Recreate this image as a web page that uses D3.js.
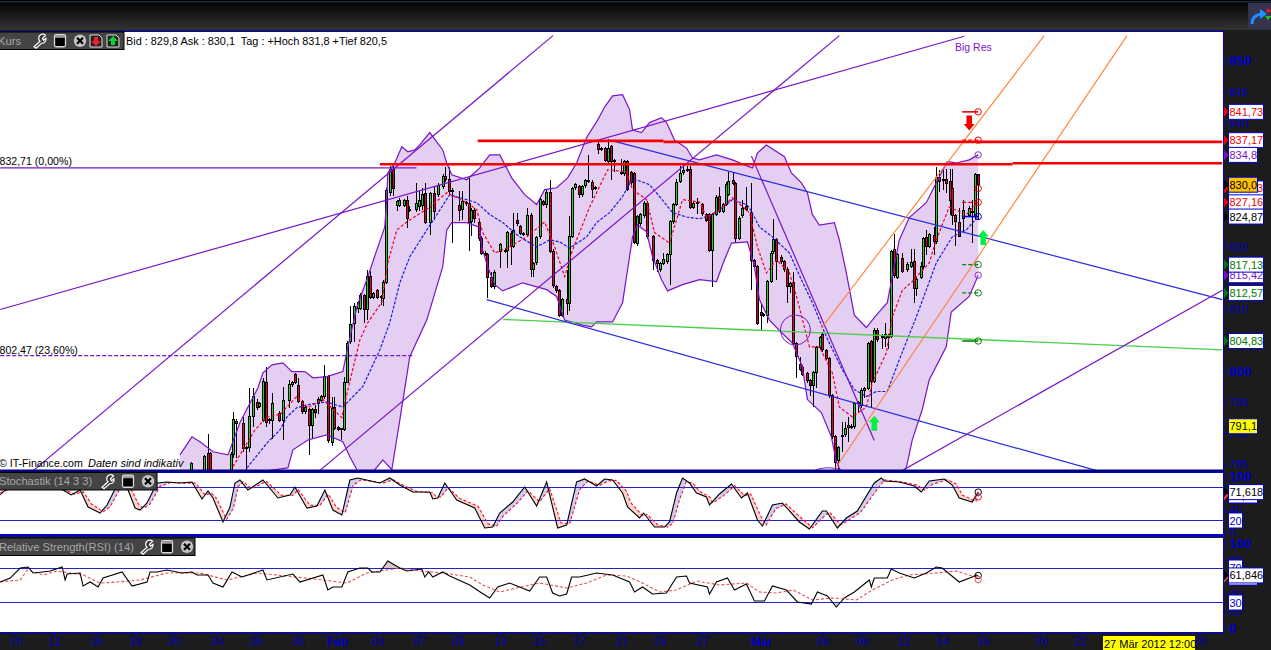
<!DOCTYPE html>
<html>
<head>
<meta charset="utf-8">
<style>
html, body { margin: 0; padding: 0; background: #1c1c1c; overflow: hidden; }
svg { display: block; font-family: "Liberation Sans", Arial, sans-serif; }
</style>
<script src="https://cdn.jsdelivr.net/npm/d3@7"></script>
</head>
<body>
<svg id="chart" width="1271" height="650"></svg>
<script>
// candles: [bar, open, high, low, close], one bar is four hours
var janCandles = [
    [.3,784,785.3,783,785.1],[4.2,784,786.5,783,786.3],[5.4,786.7,789.9,783,784],[6,786.7,787,783,784],
    [12.3,784,787,783,786.6],[12.9,786.6,793.4,786,792.2],[13.8,791.6,792.2,786,791.9],[15.9,791.6,792.6,787,787.5],
    [16.8,787.7,787.9,784,787.5],[17.7,787.7,797.2,787,792.6],[18.9,792.6,797.2,791,795.9],[20.1,795,795.5,793.8,794.2],
    [20.7,794.3,795,794,794.8],[21.9,792.1,798.8,791.8,798.3],[22.8,798.2,800.6,791,791.7],[23.7,792,792.5,791.5,792.2],
    [24.6,792.1,796.4,789.1,794.8],[26.7,793.2,793.6,791.8,792.1],[27.9,792.1,797.5,788.9,795.2],[29.7,795.2,798.5,794,797.9],
    [30.6,797.9,798.4,797.5,798.1],[31.5,799.5,799.7,797.9,798.1],[32.4,797.6,798.8,794.8,795.1],[33.6,795.1,795.3,793,793.4],
    [34.5,793.4,794.6,793,794.2],[35.7,793.8,794,786.5,791.3],[36.6,791.3,794,789.1,793.8],[37.5,793.8,794.5,792.5,793.3],
    [38.4,794.8,795.8,793,795.4],[39.3,795.3,796.2,795,795.9],[40.2,795.9,801,795.5,799.1],[41.4,799.1,799.4,788.4,788.8],
    [42.6,788.5,795.8,788,794],[43.2,794.2,795.8,790.5,790.8],[44.4,790.9,791.1,790.4,790.6],[45.3,790.6,790.9,788.9,790.7]
];
var febCandles = [
    [46.2,790.6,799.1,790.4,798.2],[47.1,798.2,804.8,798,804.5],[48,804.7,810.4,804.4,807.5],[49.2,807.7,811,804.7,810.4],
    [50.4,810.1,811.3,809.3,811],[51,810.1,812.6,809.9,812.2],[52.2,812.1,812.4,807.7,809.9],[53.1,809.9,816.2,808.2,815.2],
    [54,815.2,816.1,811.6,811.9],[54.9,811.9,812.8,811.6,812.5],[56.1,812.9,813.2,811.6,811.9],[57.3,812,812.2,810.6,811.9],
    [57.9,811.7,814.6,810.5,814.3],[58.8,814.3,829.5,814,829],[60,828.7,833,828.1,832.4],[60.9,832.4,833,828.1,829.4],
    [62.1,826.6,827.6,825.7,827.3],[62.7,826.7,827.9,826.4,827.4],[64.2,826.7,827.7,826.4,827.4],[65.1,827.4,828.1,823.1,824.5],
    [65.7,826,826.6,825.6,825.9],[67.8,826,830.2,825.6,827],[68.7,826.5,829,825.8,827.4],[69.6,826.6,829.4,826,828.5],
    [70.5,828.6,830.2,823.7,823.9],[72,823.9,828.9,821.9,828.6],[73.2,828.6,829.8,824.3,825.7],[74.4,828.5,830.3,828,829.8],
    [75.9,829.7,831.8,829.3,831.3],[76.5,831.3,832.9,830.5,830.8],[77.7,830.8,832.9,828.5,828.9],[78.6,829,829.4,820.6,828.9],
    [80.7,826.6,829,824.2,825.9],[81.6,826,829,824.3,827.3],[82.8,827.1,827.4,826.6,827],[83.7,827,831,819.4,823.9],
    [84.3,824.1,826.2,821.7,825.9],[85.2,825.9,826.2,823.8,824.6],[86.8,823.9,824.4,820.9,821.4],[87.4,821.4,821.7,818.7,819],
    [88.6,819,819.3,818.5,818.7],[89.2,818.7,819,811.7,815],[90.4,815,816,813.3,813.6],[91.3,813.6,816.2,813.2,815.8],
    [93.1,819.3,820.6,816.6,820.3],[94.6,819.4,819.7,819,819.3],[95.2,819.4,822.6,816.6,822.3],[96.4,822.2,822.5,817,820],
    [97,820,825.4,819.8,822.6],[98.2,824.2,825.4,823.3,823.8],[99.1,823.2,823.5,821.9,822.2],[100,822.2,822.4,821.8,822.1],
    [101.2,822,826.2,821.7,825.1],[102.4,825.1,825.4,815.2,816.4],[103,816.3,817.6,815.2,817.3],[103.9,817.4,821.8,817,821.5],
    [105.1,821.6,828,821.2,827.6],[106,827.3,827.6,826.5,826.8],[106.9,826.8,829.3,826.3,828.7],[108.1,828.7,830.8,819,819.3],
    [109,819.3,819.6,813.4,813.7],[109.9,813.6,813.9,812.6,812.9],[110.8,812.9,813.2,808.7,809],[111.7,809,811.8,808.7,811.5],
    [113.2,811.5,816.3,809,810.8],[113.8,810.9,825,809.6,821.7],[114.7,821.7,829.7,821.4,829.4],[115.6,829.5,830.3,829.2,830],
    [116.8,829.7,830,827.8,828.4],[117.7,828.4,830,828,829.7],[118.6,829.9,830.9,829.4,830.6],[119.5,830.7,834.8,830.2,830.6],
    [120.7,830.4,830.7,827.8,829.2],[121.6,829.5,829.8,829.1,829.4],[122.5,836.4,836.8,835,835.6],[123.4,835.8,836,835.4,835.7],
    [124.6,835.8,836.1,833.6,833.9],[125.5,833.8,837.4,833.5,835.8],[126.4,836.1,836.4,830.7,833.8],[127.3,833.9,834.1,832.1,833.8],
    [129.4,831.9,834.1,831.5,831.8],[130.3,831.8,834,831.4,833.8],[131.2,833.8,834,829,829.3],[132.4,831.9,832.2,830,830.3],
    [133.3,831.8,832.1,820.4,820.7],[134.2,820.6,825.2,820.2,824.9],[135.1,823.7,825.5,823.4,825.2],[136.3,825,827.4,824.7,827],
    [137.2,827,827.3,821.3,821.6],[139,821.6,821.9,816.3,817.8],[140.2,817.8,818.1,816,817.3],[141.1,816.3,817.6,815.9,817.3],
    [142,817.3,819,817,817.9],[143.2,817.6,819,817.3,818.7],[144.1,818.7,824.3,813.9,824],[145,824,827.1,823.7,826.8],
    [145.9,826.8,830.9,826.5,830.4],[147.1,830.5,833,830.2,831.8],[148,831.9,833.2,831.6,832.3],[149.2,832.5,833,832,832.4],
    [150.1,832.4,833,826.1,826.4],[151,826.4,827.3,826.1,827],[152.2,827.1,827.8,825.3,827],[153.7,826.8,827,825,825.3],
    [154.9,825.2,825.5,824,824.3],[155.8,825.2,825.5,819.1,819.4],[156.7,819.4,825.5,813.5,825.2],[157.9,825.2,828.3,825,828],
    [158.8,828.1,829.7,825.4,825.7],[160,825.7,827.1,825.4,826.8],[160.9,826.8,830.5,826.5,830.1],[161.5,828.4,832,828.1,830.5],
    [163,830.7,832.1,829.9,830.2],[163.6,830.2,830.5,820.6,821.4],[164.8,821.4,824.9,821.1,824.6],[165.7,825,827.6,824.7,826.2],
    [166.9,826.5,829.7,825.7,826],[168.6,825.5,830.2,813.1,817.8],[169.5,817.8,818.1,816.5,816.8]
];
var marCandles = [
    [170.4,816.8,817.1,807.4,807.7],[171.6,809.5,810.9,806.6,809],[172.2,809,809.4,808.7,809.1],[173.4,809,814.7,807.7,814.4],
    [174.6,814.4,819.3,814.1,819],[175.2,819.2,824.4,818.9,821.1],[176.1,821.1,821.4,814.6,817.6],[177.6,818.3,818.6,817.3,817.6],
    [178.5,817.6,817.9,816,816.3],[179.4,816.3,816.8,810.9,813.6],[180.3,813.6,814.4,812.5,814.1],[181.2,814.2,816,804.1,804.4],
    [182.1,804.4,804.7,798.8,802.3],[183.3,801,802.3,800,800.3],[183.9,800.6,800.9,799.2,799.5],[185.4,799.6,799.9,798.1,798.4],
    [186.3,798.4,798.7,795.9,797.6],[187.2,797.6,800,794.2,799.7],[188.1,799.7,804.1,797.2,803.8],[189.3,803.8,805.7,803.5,805.4],
    [189.9,805.9,806.2,803.1,803.4],[191.1,803.3,803.6,801.7,802],[192,802,802.3,795.7,796],[192.9,796,796.3,789.1,789.4],
    [193.8,789.4,789.7,784,785.2],[194.7,785.6,787.9,784,787.7],[195.9,789.6,791.8,787,789.5],[196.8,789.7,791.8,789.4,790.7],
    [197.7,790.9,792.6,788.6,791.3],[198.6,791.1,791.4,790.7,791],[199.5,791,795,790.7,794.7],[200.7,794.9,795.1,793.4,794.8],
    [201.6,794.4,797.2,794.1,796.8],[202.5,796.8,797.5,795.6,797.2],[203.7,797.2,804.7,796.9,804.4],[204.6,804.7,805,794,798.3],
    [205.5,798.3,806.9,798,806.6],[206.4,806.6,806.9,804.7,805],[207.9,805.6,806,803.6,805.5],[208.8,805.2,807.8,803.8,805.8],
    [209.7,805.6,805.9,803.6,805.5],[210.6,805.6,819.5,805.3,819.2],[211.5,819.5,822,815,815.3],[212.4,815.1,819,814.8,818.7],
    [213.9,818.1,819,815.8,816.1],[215.4,816.3,817.5,816,817.2],[216.6,816.9,819.7,816.6,817.4],[217.5,817.6,819.7,811,813.3],
    [218.1,813.3,815.1,812,814.8],[219.6,815.1,817.6,814.8,816.8],[220.2,816.8,821.6,816.5,821.3],[221.1,821.5,822.7,818.7,820.1],
    [222,820.1,822.3,819.8,822],[223.5,821.9,823.2,818.7,820.8],[224.1,820.8,832.8,820.5,831.2],[225,831.2,832.3,828.9,830.5],
    [226.2,830.8,832.3,829.2,830.7],[227.1,830.8,832.6,828.6,830.2],[228.3,830.5,832.6,825.1,827.5],[228.9,829.4,832.6,823.5,825],
    [229.8,825,825.3,820.1,824],[231,823.9,826.2,821.5,821.7],[232.2,824.6,827.5,822.4,825.8],[234,825.1,826.5,824.8,826.2],
    [234.9,825.7,827.5,820.6,825.6],[235.8,824.9,831.9,824.3,831.6],[236.7,831.6,831.8,824.3,830]
];

// bollinger bands and moving averages: [bar, price]
var upperBand = [[-3,786.5],[.6,789.4],[3,788.6],[6.9,787],[11.4,786.5],[15,791.7],[20.4,797.3],[21.9,799.7],[24.6,801],[27.9,801.3],[30.6,799.9],[34.5,799.9],[36.9,798.9],[41.1,799.1],[45.9,799.9],[47.4,803.9],[50.1,810.3],[53.1,814.7],[56.1,819.5],[58.5,823.2],[59.1,828],[59.4,831.9],[61.5,833.5],[63.6,836.1],[65.4,835.3],[67.5,835.6],[69,836.4],[72,838.4],[75.9,835.6],[77.1,833.5],[78.6,831.6],[83.1,830.8],[87,832.7],[90,834.8],[93,834.8],[95.1,832.7],[96.6,831.1],[100.5,828.4],[104.1,826.8],[106.5,829.2],[110.1,829.5],[113.4,831.1],[116.1,833.5],[119.1,837.6],[122.4,840.4],[124.5,842.5],[126.9,844.3],[129.9,844.5],[132,842.1],[132.9,838.8],[135.6,838.4],[138,840],[141.6,840.8],[143.1,840],[145.5,837.2],[149.1,835.9],[150.9,834.3],[153,834],[158.1,834.8],[162.9,834],[166.5,833.2],[168.9,832.7],[170.4,835.1],[173.1,836.4],[178.5,834.5],[180.6,831.9],[183.6,830.3],[185.4,828.7],[186.9,825.2],[189,823.5],[193.5,823.9],[195,821.1],[197.1,815.8],[199.5,809],[203.1,807],[206.1,809],[209.4,811],[210.6,814.4],[213,821.1],[216,824.7],[221.1,827.1],[224.1,830.3],[227.4,833.7],[230.1,833.5],[234,834],[236.7,834.8]];
var lowerBand = [[-3,782],[29.4,784.4],[30.9,787.3],[35.4,788.9],[41.1,789.7],[45.9,788.6],[48,786.2],[50.1,784.1],[52.8,783.1],[55.5,784.1],[57.9,785.7],[60.6,784.1],[63,792.1],[66,802.3],[71.1,808.2],[75.9,816.8],[77.1,822.7],[78.6,823.9],[83.1,823.9],[87,823.1],[87.6,820],[89.4,816.8],[91.5,813.9],[93.9,812.9],[99.9,814.2],[107.1,813.1],[110.1,812],[112.5,808.2],[117.9,807.4],[120.6,807.1],[122.1,807.9],[126.9,807.9],[129.9,811],[132,818.4],[132.9,821.6],[134.4,823.5],[137.1,822.4],[138.9,818.4],[141.6,814.7],[143.4,812.9],[147.9,813.9],[153,814.7],[158.1,814.4],[160.5,817.9],[162.6,820.6],[167.4,820.8],[169.5,816.8],[171,811.5],[174,808.2],[177.6,806.2],[180.9,804.5],[183.9,800.7],[185.4,795.4],[189.6,793.3],[192.6,789.4],[194.1,785.4],[196.5,782.5],[213,782.5],[215.1,784.4],[216.9,788.9],[219.9,793.8],[222,798.6],[227.1,803.9],[228.6,809.5],[234,812],[236.7,815.4]];
var midBand = [[17.1,784.4],[23.1,788.4],[27,790.5],[29.1,792.6],[32.1,794.1],[36.6,794.7],[41.1,795],[45.9,794.2],[51.9,797.5],[57,803.4],[60,807.8],[63,814.2],[66,818.4],[71.1,822.7],[75,825.9],[78,828.4],[81,827.9],[86.1,827.1],[90,825.2],[93.9,823.9],[99,821.6],[104.1,820],[108,821.1],[111,820.8],[114,819.8],[119.1,821.6],[122.1,823.9],[126,825.5],[129.9,828.1],[132.9,831],[138,830],[141,828.1],[144.9,825.5],[149.1,824.8],[153,824.5],[158.1,825.5],[162.9,827.6],[167.1,826.8],[168,826.3],[171,823.2],[174.9,821.6],[180,819],[183.6,814.7],[186.9,811],[191.1,805.5],[195.9,800.2],[199.5,797],[203.1,795.9],[206.1,796.7],[209.4,796.7],[213,801.8],[218.1,808.7],[224.1,817.4],[228.9,821.6],[233.1,822.7],[236.7,824.9]];
var fastAverage = [[12.9,784.6],[15.9,787.3],[19.5,790.5],[23.1,792.6],[27,793],[32.1,795.9],[35.4,794.1],[39.9,795.4],[45.6,792.5],[47.4,797],[51,805],[53.4,807.8],[57.6,811.1],[59.4,817.4],[62.1,822.7],[65.1,824],[72,826.4],[77.1,828.7],[83.1,827.1],[86.1,826],[87.9,822.3],[91.5,819],[96,820],[101.1,821.6],[106.5,824],[109.5,820],[112.5,815.2],[114.9,819.5],[120,826.4],[125.4,832.4],[131.1,832.1],[132.9,829.2],[137.1,827.6],[139.5,822.3],[144,820.6],[147.9,827.6],[153,827.2],[155.1,824.8],[159,825.9],[162.9,827.9],[168,825.5],[170.4,820],[173.1,815.8],[176.1,817.9],[180,815.8],[182.4,811.5],[186,803.9],[189,803.9],[192.9,799.7],[195,794.2],[198.9,792.6],[203.1,794.2],[204.9,798.1],[209.1,802.9],[210.9,808.7],[213.9,813],[216.9,814.4],[222,817.4],[224.1,821.1],[228,826.4],[233.1,825.2],[236.7,827.2]];

// stochastic %K and %D, RSI and its average: [bar, value]
var stochK = [[-57,66.4],[-55.5,75.5],[-48,90],[-38.1,75.5],[-35.7,66.4],[-33,75.5],[-30.6,44.5],[-27,33.6],[-24.9,48.2],[-21.9,84.5],[-18.6,75.5],[-16.5,42.7],[-15,39],[-12.9,51.8],[-9.9,88.2],[-6.9,90],[-3,88.2],[.6,90],[3.6,59.1],[5.4,73.6],[6.9,60.9],[9.9,17.3],[12,44.5],[13.5,88.2],[15,93.6],[17.4,75.5],[21.9,93.6],[26.4,60.9],[30,66.4],[31.5,80.9],[35.1,42.7],[38.1,46.4],[40.5,75.5],[42.9,39.1],[45.6,30],[48,93.6],[50.4,97.3],[57,88.2],[60,97.3],[63,84.5],[66.9,71.8],[72,71.8],[72.9,59.1],[74.4,60.9],[76.5,88.2],[80.1,57.3],[85.5,42.7],[88.5,6.4],[90.9,8.2],[93,33.6],[96.9,53.6],[100.5,80.9],[104.1,46.4],[107.1,90],[110.4,6.4],[113.1,11.8],[116.1,90],[118.5,95.5],[122.1,82.7],[124.5,95.5],[126.9,93.6],[129.9,70],[131.4,44.5],[135,24.5],[136.2,33.6],[139.5,8.2],[142.5,8.2],[144,17.3],[146.1,70],[147.9,97.3],[150,88.2],[152.1,70],[155.1,62.7],[156,48.2],[159,68.2],[162.6,86.4],[165.6,60.9],[167.4,70],[170.4,20.9],[171.9,10],[174.9,48.2],[177.9,51.8],[183,17.3],[186,4.5],[189.9,37.3],[191.1,37.3],[194.4,6.4],[197.1,24.5],[200.4,37.3],[205.5,88.2],[207.6,97.3],[208.5,91.8],[213,90],[217.5,82.7],[219.6,71.8],[222,91.8],[226.5,95.5],[228.9,84.5],[231,60.9],[234.9,53.6],[236.7,71.6]];
var stochD = [[-57,70],[-54,78],[-47,88],[-37,74],[-34.7,68],[-32,72],[-29.6,50],[-26,36],[-24,45],[-21,78],[-17.6,76],[-15.5,50],[-14,42],[-12,50],[-9,82],[-6,89],[-2,88],[1.6,88],[4.6,66],[6.4,70],[8,60],[11,22],[13,42],[14.5,82],[16,91],[18.4,78],[23,91],[27.4,66],[31,66],[32.5,76],[36,48],[39,47],[41.5,68],[44,44],[46.6,34],[49,84],[51.4,94],[58,88],[61,94],[64,84],[68,73],[73,70],[74,63],[75.4,63],[77.5,80],[81,60],[86.5,46],[89.5,14],[92,9],[94,28],[98,50],[101.5,74],[105,54],[108,78],[111.4,16],[114,14],[117,76],[119.5,92],[123,84],[125.5,92],[128,93],[131,74],[132.4,52],[136,28],[137.2,31],[140.5,12],[143.5,8],[145,15],[147,58],[149,90],[151,88],[153,73],[156,63],[157,52],[160,64],[163.6,83],[166.6,65],[168.4,68],[171.4,28],[173,12],[176,42],[179,50],[184,22],[187,7],[190.9,30],[192.1,35],[195.4,12],[198.1,22],[201.4,35],[206.5,78],[208.6,94],[209.5,93],[214,90],[218.5,84],[220.6,75],[223,86],[227.5,94],[230,87],[232,66],[236,55],[236.7,63]];
var rsiLine = [[-57,54.2],[-54,58.8],[-51,70.6],[-48.6,71.8],[-47.1,64.7],[-44.4,65.9],[-42,67.1],[-38.4,71.8],[-37.5,56.5],[-36.9,63.5],[-33,64.7],[-32.1,49.4],[-30,54.1],[-27.6,48.2],[-26.1,58.8],[-20.4,65.9],[-17.4,49.4],[-12.9,54.1],[-12,65.9],[-9.9,65.9],[-6.9,68.2],[-2.4,64.7],[.6,65.9],[2.1,62.4],[5.4,62.4],[6.9,52.9],[9.9,48.2],[12.6,65.9],[15.6,60],[21.9,68.2],[23.1,56.5],[30.9,63.5],[33,54.1],[39.9,62.4],[41.4,44.7],[42.9,48.2],[45.6,48.2],[47.4,65.9],[51,70.6],[53.4,70.6],[54.6,65.9],[57,65.9],[59.4,78.8],[63,70.6],[65.1,67.1],[69.6,69.4],[70.5,60],[71.7,65.9],[72.9,60],[75.9,65.9],[78,61.2],[84,50.6],[87.6,41.2],[90,35.3],[92.4,48.2],[96,52.9],[102,43.5],[105,60],[107.1,60],[108.9,41.2],[111,37.7],[113.1,40],[114.6,60],[117,60],[122.1,64.7],[126.9,62.4],[132,54.1],[133.5,42.4],[135.9,48.2],[138.9,40],[143.1,41.2],[146.1,60],[149.1,61.2],[150,52.9],[155.4,48.2],[156,40],[158.1,54.1],[161.4,58.8],[163.5,44.7],[167.1,51.8],[169.5,31.8],[172.5,31.8],[174.9,49.4],[179.1,44.7],[182.4,30.6],[186.6,28.2],[188.4,42.4],[191.4,37.7],[194.1,24.7],[196.5,35.3],[199.5,42.4],[204,56.5],[204.6,48.2],[205.5,58.8],[209.4,58.8],[210.6,69.4],[213,64.7],[217.5,58.8],[221.1,64.7],[224.1,71.8],[225.9,70.6],[231,54.1],[234.9,60],[236.1,62.4],[236.7,61.8]];
var rsiAverage = [[-57,54.2],[-51,56.5],[-48.9,68.2],[-44.1,62.4],[-39.9,67.1],[-32.1,62.4],[-27,52.9],[-21.9,54.1],[-15,56.5],[-6.9,64.7],[3,64.7],[11.1,56.5],[20.1,64.7],[29.1,61.2],[39.9,56.5],[47.1,52.9],[53.1,64.7],[63,70.6],[69,67.1],[75.9,64.7],[84,60],[87.9,50.6],[93,42.4],[98.1,47.1],[105,52.9],[113.1,47.1],[119.1,52.9],[125.1,62.4],[131.1,61.2],[135.9,52.9],[141,42.4],[146.1,44.7],[152.1,55.3],[159,50.6],[167.1,52.9],[171,42.4],[176.1,41.2],[181.2,44.7],[186.9,32.9],[192.9,35.3],[200.1,32.9],[204.9,44.7],[210.9,56.5],[216,62.4],[224.1,64.7],[230.1,67.1],[236.7,58.8]];

// drawn trend lines: [bar1, price1, bar2, price2]
var purpleLines = [[-57,809.9,232.5,853.9],[-47,784,109,854],[39,784,195,854],[214,784,310,813],[168.6,834.6,205.5,788.8]];
var blueLines = [[89.1,811.5,272,784],[126.6,837.1,310,811.5]];
var greenLines = [[94,808.3,310,803.4]];
var orangeLines = [[189.6,806.9,256.5,854],[193.8,784.3,281.4,854]];
var redLines = [[86.4,837.05,142.2,837.05],[142.2,836.9,310,836.9],[57,833.3,247,833.3],[247,833.45,310,833.45]];

// price axis and date axis
var priceTicks = [850,845,840,835,830,825,820,815,810,805,800,795,790,785];
var dateBars = [-52.5,-40.8,-28.2,-16.5,-4.8,8.1,19.8,32.4,44.1,56.2,68.8,80.5,93.1,104.8,116.8,129.4,141.1,153.8,171.5,190,201.8,214.4,225.8,238.1,255.6,267.3,279.3,291,303];
var dateLabels = ["10","12","16","18","20","24","26","30","Feb","03","07","09","13","15","17","21","23","27","Mar","06","08","12","14","16","20","22","","","30"];

// value tags at the right edge: [text, price, text colour, fill, arrow colour]
var priceTags = [
    ["841,73",841.73,"#f00000","#fff","#f00000"],["837,17",837.17,"#f00000","#fff","#f00000"],["834,8",834.8,"#7a10c8","#fff","#7a10c8"],
    ["829,43",829.4,"#f00000","#fff","#f00000"],["830,0",830.0,"#000","#ffc000","#000"],["827,16",827.16,"#f00000","#fff","#f00000"],
    ["824,87",824.87,"#000","#fff","#000"],["815,42",815.42,"#7a10c8","#fff","#7a10c8"],["817,13",817.13,"#007a00","#fff","#007a00"],
    ["812,57",812.57,"#007a00","#fff","#007a00"],["804,83",804.83,"#007a00","#fff","#007a00"],["791,1",791.1,"#000","#ffff00",null]
];
// line end markers: [price, colour, dash]
var endMarks = [
    [841.73,"#f00000","solid"],[837.17,"#f00000","dash"],[834.8,"#8a30d0",null],[829.4,"#f00000",null],[827.16,"#f00000","dash"],
    [824.87,"#0000c8","solid"],[817.13,"#108010","dash"],[815.42,"#8a30d0",null],[812.57,"#108010","dash"],[804.83,"#108010","solid"]
];
// signal arrows: [bar, price, direction]
var signalArrows = [[205.5,791.5,"up"],[238.2,821.4,"up"],[234,840,"down"]];

var stochTicks = [100,80,60,40,0];
var rsiTicks = [100,80,60,40,20,0];

var WIDTH = 1271, HEIGHT = 650, PLOT_RIGHT = 1223;
var svg = d3.select("#chart");

var x = d3.scaleLinear().domain([-57, 310]).range([0.2, 1222.3]);
var y = d3.scaleLinear().domain([850, 800]).range([60.5, 371]);
var stochY = d3.scaleLinear().domain([0, 100]).range([531.5, 476.5]);
var rsiY = d3.scaleLinear().domain([0, 100]).range([628, 543]);

var AXIS_BLUE = "#0000c8", PURPLE = "#7a14c8";

// frame: dark page, top strip, three white panels
var defs = svg.append("defs");
var grad = defs.append("linearGradient").attr("id", "topStrip").attr("x1", 0).attr("x2", 0).attr("y1", 0).attr("y2", 1);
grad.append("stop").attr("offset", "0%").attr("stop-color", "#000");
grad.append("stop").attr("offset", "100%").attr("stop-color", "#333");
svg.append("rect").attr("width", WIDTH).attr("height", HEIGHT).attr("fill", "#1c1c1c");
svg.append("rect").attr("width", WIDTH).attr("height", 30).attr("fill", "url(#topStrip)");
svg.append("rect").attr("width", WIDTH).attr("height", 1.5).attr("y", 1).attr("fill", "#1c2c40");

function addPanel(id, top, bottom) {
    defs.append("clipPath").attr("id", id).append("rect").attr("x", 0).attr("y", top).attr("width", PLOT_RIGHT).attr("height", bottom - top);
    svg.append("rect").attr("x", 0).attr("y", top).attr("width", PLOT_RIGHT).attr("height", bottom - top).attr("fill", "#fff");
    return svg.append("g").attr("clip-path", "url(#" + id + ")");
}
var pricePanel = addPanel("clipPrice", 32, 470);
var stochPanel = addPanel("clipStoch", 473, 534);
var rsiPanel = addPanel("clipRsi", 538, 632);

function lineOf(scale) {
    return d3.line().x(function (d) { return x(d[0]); }).y(function (d) { return scale(d[1]); });
}
function drawPath(group, data, scale, color, width, dash) {
    return group.append("path").datum(data).attr("d", lineOf(scale)).attr("fill", "none")
        .attr("stroke", color).attr("stroke-width", width).attr("stroke-dasharray", dash || null);
}

// bollinger fill goes under the candles, its outline on top
var bandPolygon = upperBand.concat(lowerBand.slice().reverse());
pricePanel.append("path").datum(bandPolygon).attr("d", function (d) { return lineOf(y)(d) + "Z"; }).attr("fill", "#e4cef2");

// purple fibonacci levels
pricePanel.append("line").attr("x1", x(-57)).attr("x2", x(68)).attr("y1", y(832.71)).attr("y2", y(832.71))
    .attr("stroke", PURPLE).attr("stroke-width", 1.3);
pricePanel.append("line").attr("x1", x(-57)).attr("x2", x(66.9)).attr("y1", y(802.47)).attr("y2", y(802.47))
    .attr("stroke", PURPLE).attr("stroke-width", 1.3).attr("stroke-dasharray", "4,2");

// candles
var candles = janCandles.concat(febCandles, marCandles);
var candleG = pricePanel.append("g").attr("shape-rendering", "crispEdges");
candleG.selectAll("line").data(candles).enter().append("line")
    .attr("x1", function (d) { return Math.round(x(d[0])) + 0.5; })
    .attr("x2", function (d) { return Math.round(x(d[0])) + 0.5; })
    .attr("y1", function (d) { return y(d[2]); })
    .attr("y2", function (d) { return y(d[3]); })
    .attr("stroke", "#000");
candleG.selectAll("rect").data(candles).enter().append("rect")
    .attr("x", function (d) { return Math.round(x(d[0])) - 0.5; })
    .attr("y", function (d) { return y(Math.max(d[1], d[4])); })
    .attr("width", 2)
    .attr("height", function (d) { return Math.max(Math.abs(y(d[1]) - y(d[4])), 1); })
    .attr("fill", function (d) { return d[4] >= d[1] ? "#22d422" : "#e00030"; })
    .attr("stroke", "#000").attr("stroke-width", 1);

drawPath(pricePanel, upperBand, y, PURPLE, 1.2);
drawPath(pricePanel, lowerBand, y, PURPLE, 1.2);
drawPath(pricePanel, midBand, y, "#1a1ae0", 1.2, "3,1.5");
drawPath(pricePanel, fastAverage, y, "#f00020", 1.2, "3,2");

function drawSegments(list, color, width) {
    pricePanel.append("g").selectAll("line").data(list).enter().append("line")
        .attr("x1", function (d) { return x(d[0]); }).attr("y1", function (d) { return y(d[1]); })
        .attr("x2", function (d) { return x(d[2]); }).attr("y2", function (d) { return y(d[3]); })
        .attr("stroke", color).attr("stroke-width", width);
}
drawSegments(greenLines, "#48d048", 1.3);
drawSegments(blueLines, "#2a2ae0", 1.2);
drawSegments(purpleLines, PURPLE, 1.2);
drawSegments(orangeLines, "#ff8038", 1.1);
drawSegments(redLines, "#f80000", 2.6);

// circles drawn by hand on the chart
pricePanel.append("circle").attr("cx", x(181.8)).attr("cy", y(806.6)).attr("r", 15).attr("fill", "none").attr("stroke", PURPLE);
pricePanel.append("ellipse").attr("cx", x(191.7)).attr("cy", y(782)).attr("rx", 24).attr("ry", 15).attr("fill", "none").attr("stroke", PURPLE);

// end of line markers
var markBar = 236.7;
var markG = pricePanel.append("g");
endMarks.forEach(function (m) {
    if (m[2]) {
        markG.append("line").attr("x1", x(markBar) - 16).attr("x2", x(markBar)).attr("y1", y(m[0])).attr("y2", y(m[0]))
            .attr("stroke", m[1]).attr("stroke-width", m[2] === "solid" ? 1.6 : 1.2)
            .attr("stroke-dasharray", m[2] === "dash" ? "4,2" : null);
    }
    markG.append("circle").attr("cx", x(markBar)).attr("cy", y(m[0])).attr("r", 3.2).attr("fill", "none").attr("stroke", m[1]);
});

// green and red signal arrows
pricePanel.append("g").selectAll("path").data(signalArrows).enter().append("path")
    .attr("transform", function (d) { return "translate(" + x(d[0]) + "," + y(d[1]) + ")" + (d[2] === "down" ? " rotate(180)" : ""); })
    .attr("d", "M0,-8L5.5,-1.5L2.8,-1.5L2.8,7L-2.8,7L-2.8,-1.5L-5.5,-1.5Z")
    .attr("fill", function (d) { return d[2] === "up" ? "#00f040" : "#f00000"; });

pricePanel.append("text").attr("x", 955).attr("y", 51).attr("font-size", 10.5).attr("fill", PURPLE).text("Big Res");
pricePanel.append("text").attr("x", -0.5).attr("y", 165).attr("font-size", 10.6).attr("fill", "#000").text("832,71 (0,00%)");
pricePanel.append("text").attr("x", -0.5).attr("y", 354).attr("font-size", 10.6).attr("fill", "#000").text("802,47 (23,60%)");
pricePanel.append("text").attr("x", -1).attr("y", 467).attr("font-size", 10.6).attr("fill", "#000").text("© IT-Finance.com");
pricePanel.append("text").attr("x", 88).attr("y", 467).attr("font-size", 11).attr("font-style", "italic").attr("fill", "#000").text("Daten sind indikativ");

// stochastic panel
function fillBetween(group, a, b, aboveColor, belowColor) {
    var fa = d3.scaleLinear().domain(a.map(function (d) { return d[0]; })).range(a.map(function (d) { return d[1]; }));
    var fb = d3.scaleLinear().domain(b.map(function (d) { return d[0]; })).range(b.map(function (d) { return d[1]; }));
    var scale = group === stochPanel ? stochY : rsiY;
    var bars = d3.range(a[0][0], a[a.length - 1][0], 0.5);
    bars.forEach(function (bar) {
        var v1 = fa(bar), v2 = fb(bar);
        var w1 = fa(bar + 0.5), w2 = fb(bar + 0.5);
        group.append("path")
            .attr("d", "M" + x(bar) + "," + scale(v1) + "L" + x(bar + 0.5) + "," + scale(w1) + "L" + x(bar + 0.5) + "," + scale(w2) + "L" + x(bar) + "," + scale(v2) + "Z")
            .attr("fill", v1 + w1 > v2 + w2 ? aboveColor : belowColor);
    });
}
fillBetween(stochPanel, stochK, stochD, "#c8c8f0", "#f8d0c8");
[80, 20].forEach(function (v) {
    stochPanel.append("line").attr("x1", 0).attr("x2", PLOT_RIGHT).attr("y1", stochY(v)).attr("y2", stochY(v)).attr("stroke", "#2020d8").attr("stroke-width", 1.2);
});
drawPath(stochPanel, stochD, stochY, "#f81030", 1.1, "3,2");
drawPath(stochPanel, stochK, stochY, "#000", 1.1);
stochPanel.append("circle").attr("cx", x(markBar)).attr("cy", stochY(71.6)).attr("r", 3.2).attr("fill", "none").attr("stroke", "#000");
stochPanel.append("circle").attr("cx", x(markBar)).attr("cy", stochY(63)).attr("r", 3.2).attr("fill", "none").attr("stroke", "#f81030");

// rsi panel, shaded only where it leaves the 30-70 band
var rsiF = d3.scaleLinear().domain(rsiLine.map(function (d) { return d[0]; })).range(rsiLine.map(function (d) { return d[1]; }));
rsiPanel.append("path").attr("d", d3.area().x(function (b) { return x(b); })
    .y0(rsiY(70)).y1(function (b) { return rsiY(Math.max(70, rsiF(b))); })(d3.range(-57, 237, 0.25))).attr("fill", "#dcc4c4");
rsiPanel.append("path").attr("d", d3.area().x(function (b) { return x(b); })
    .y0(rsiY(30)).y1(function (b) { return rsiY(Math.min(30, rsiF(b))); })(d3.range(-57, 237, 0.25))).attr("fill", "#c0dcc8");
[70, 30].forEach(function (v) {
    rsiPanel.append("line").attr("x1", 0).attr("x2", PLOT_RIGHT).attr("y1", rsiY(v)).attr("y2", rsiY(v)).attr("stroke", "#2020d8").attr("stroke-width", 1.2);
});
drawPath(rsiPanel, rsiAverage, rsiY, "#e85050", 1.1, "3,2");
drawPath(rsiPanel, rsiLine, rsiY, "#000", 1.1);
rsiPanel.append("circle").attr("cx", x(markBar)).attr("cy", rsiY(61.8)).attr("r", 3.2).attr("fill", "none").attr("stroke", "#000");
rsiPanel.append("circle").attr("cx", x(markBar)).attr("cy", rsiY(57)).attr("r", 3.2).attr("fill", "none").attr("stroke", "#e85050");

// panel borders
svg.append("rect").attr("x", 0).attr("y", 31).attr("width", PLOT_RIGHT + 1).attr("height", 1).attr("fill", AXIS_BLUE);
svg.append("rect").attr("x", 0).attr("y", 469.5).attr("width", PLOT_RIGHT + 1).attr("height", 2.5).attr("fill", "#000080");
svg.append("rect").attr("x", 0).attr("y", 472).attr("width", PLOT_RIGHT + 1).attr("height", 1).attr("fill", AXIS_BLUE);
svg.append("rect").attr("x", 0).attr("y", 534).attr("width", PLOT_RIGHT + 1).attr("height", 2).attr("fill", AXIS_BLUE);
svg.append("rect").attr("x", 0).attr("y", 537).attr("width", PLOT_RIGHT + 1).attr("height", 1).attr("fill", AXIS_BLUE);
svg.append("rect").attr("x", 0).attr("y", 632).attr("width", PLOT_RIGHT + 1).attr("height", 1.2).attr("fill", AXIS_BLUE);
svg.append("rect").attr("x", PLOT_RIGHT).attr("y", 31).attr("width", 1).attr("height", 602).attr("fill", AXIS_BLUE);

// axes
function styleAxis(g, bold) {
    g.select(".domain").remove();
    g.selectAll("line").attr("stroke", AXIS_BLUE);
    g.selectAll("text").attr("fill", AXIS_BLUE)
        .attr("font-size", function (d) { return bold(d) ? 13.5 : 11.5; })
        .attr("font-weight", function (d) { return bold(d) ? "bold" : "normal"; });
}
function rightAxis(scale, ticks, boldFn) {
    var g = svg.append("g").attr("transform", "translate(" + (PLOT_RIGHT + 1) + ",0)")
        .call(d3.axisRight(scale).tickValues(ticks).tickSize(3).tickPadding(2).tickFormat(d3.format("d")));
    g.attr("font-family", null);
    styleAxis(g, boldFn);
}
rightAxis(y, priceTicks, function (d) { return d % 50 === 0; });
rightAxis(stochY, stochTicks, function (d) { return d === 100; });
rightAxis(rsiY, rsiTicks, function (d) { return d === 100 || d === 0; });

var dateAxis = svg.append("g").attr("transform", "translate(0,633)")
    .call(d3.axisBottom(x).tickValues(dateBars).tickSize(3).tickPadding(1).tickFormat(function (d, i) { return dateLabels[i]; }));
dateAxis.attr("font-family", null);
dateAxis.select(".domain").remove();
dateAxis.selectAll("line").attr("stroke", AXIS_BLUE);
dateAxis.selectAll("text").attr("fill", AXIS_BLUE).attr("font-size", function (d, i) { return isNaN(+dateLabels[i]) ? 12 : 11.5; })
    .attr("font-weight", function (d, i) { return isNaN(+dateLabels[i]) ? "bold" : "normal"; });

// tags on the value axes
function addTag(text, yPos, color, fill, arrow) {
    var w = text.length <= 2 ? 14 : text.length === 5 ? 29 : 35;
    if (arrow) {
        svg.append("path").attr("d", "M1224," + (yPos - 5) + "L1228.5," + yPos + "L1224," + (yPos + 5) + "Z").attr("fill", arrow);
    }
    svg.append("rect").attr("x", 1228.5).attr("y", yPos - 7.5).attr("width", w).attr("height", 15)
        .attr("fill", fill).attr("stroke", "#0000d0");
    svg.append("text").attr("x", 1229.5).attr("y", yPos + 4).attr("font-size", 11).attr("fill", color).text(text);
}
priceTags.forEach(function (t) { addTag(t[0], y(t[1]), t[2], t[3], t[4]); });
addTag("63,42", 495.5, "#f00000", "#fff", "#f83030");
addTag("71,618", stochY(71.618), "#000", "#fff", "#000");
addTag("20", stochY(20), AXIS_BLUE, "#fff", null);
addTag("70", rsiY(70) - 1, AXIS_BLUE, "#fff", null);
addTag("57,12", 577.5, "#e85050", "#fff", "#e86060");
addTag("61,846", rsiY(61.846), "#000", "#fff", "#000");
addTag("30", rsiY(30), AXIS_BLUE, "#fff", null);

// date cursor label
svg.append("rect").attr("x", 1103).attr("y", 636).attr("width", 92).attr("height", 14).attr("fill", "#ffff00");
svg.append("text").attr("x", 1104).attr("y", 647.5).attr("font-size", 11).attr("fill", "#000").text("27 Mär 2012 12:00");

// indicator toolbars
function wrench(g, cx, cy) {
    g.append("path").attr("transform", "translate(" + cx + "," + cy + ")")
        .attr("d", "M-6,6L0,0.5A4,4 0 0 1 5.5,-5.5L2.5,-2.5L3.5,-0.5L6,-2.5A4.2,4.2 0 0 1 1.5,2.5L-4,7.5Z")
        .attr("fill", "#3a3a3a").attr("stroke", "#fff").attr("stroke-width", 1.2);
}
function windowIcon(g, cx, cy) {
    g.append("rect").attr("x", cx - 5.5).attr("y", cy - 6).attr("width", 11).attr("height", 12).attr("rx", 1.5)
        .attr("fill", "#000").attr("stroke", "#d8d8d8").attr("stroke-width", 1.3);
    g.append("rect").attr("x", cx - 5).attr("y", cy - 5.5).attr("width", 10).attr("height", 2.5).attr("fill", "#a0a0a0");
}
function closeIcon(g, cx, cy) {
    g.append("circle").attr("cx", cx).attr("cy", cy).attr("r", 6.2).attr("fill", "#c4c4c4");
    g.append("path").attr("d", "M" + (cx - 3) + "," + (cy - 3) + "L" + (cx + 3) + "," + (cy + 3) + "M" + (cx + 3) + "," + (cy - 3) + "L" + (cx - 3) + "," + (cy + 3))
        .attr("stroke", "#000").attr("stroke-width", 2.2);
}
function pageIcon(g, cx, cy, color, up) {
    g.append("path").attr("d", "M" + (cx - 6) + "," + (cy - 6) + "H" + (cx + 3) + "L" + (cx + 6) + "," + (cy - 3) + "V" + (cy + 6) + "H" + (cx - 6) + "Z")
        .attr("fill", "#222").attr("stroke", "#e0e0e0");
    g.append("path").attr("transform", "translate(" + cx + "," + cy + ")" + (up ? "" : " rotate(180)"))
        .attr("d", "M0,-5L5,0L2,0L2,4L-2,4L-2,0L-5,0Z").attr("fill", color);
}
function toolbar(top, height, width, label, icons) {
    var g = svg.append("g");
    g.append("rect").attr("x", -1).attr("y", top).attr("width", width + 1).attr("height", height)
        .attr("fill", "#444").attr("stroke", "#000");
    g.append("text").attr("x", -1).attr("y", top + height - 5).attr("font-size", 11.2).attr("fill", "#a8a8a8").text(label);
    wrench(g, icons[0], top + height / 2);
    windowIcon(g, icons[1], top + height / 2);
    closeIcon(g, icons[2], top + height / 2);
    return g;
}
var mainBar = toolbar(32, 17.5, 124, "Kurs", [40, 60, 80]);
mainBar.select("text").attr("x", -2);
pageIcon(mainBar, 96, 41, "#f02030", false);
pageIcon(mainBar, 113, 41, "#10d030", true);
toolbar(472.5, 17.5, 157, "Stochastik (14 3 3)", [108, 128, 148]);
toolbar(538, 17.5, 195, "Relative Strength(RSI) (14)", [147, 167, 187]);

svg.append("text").attr("x", 126).attr("y", 44.5).attr("font-size", 10.9).attr("fill", "#000").attr("xml:space", "preserve")
    .text("Bid : 829,8 Ask : 830,1  Tag : +Hoch 831,8 +Tief 820,5");

// order button, top right
var orderBtn = svg.append("g");
orderBtn.append("rect").attr("x", 1248).attr("y", 3).attr("width", 24).attr("height", 26).attr("fill", "#34344c");
orderBtn.append("path").attr("d", "M1252,24Q1252,15 1262,14").attr("fill", "none").attr("stroke", "#2090ff").attr("stroke-width", 3);
orderBtn.append("path").attr("d", "M1260,9L1267,14L1260,19Z").attr("fill", "#2090ff");
orderBtn.append("path").attr("d", "M1268,8L1271,12L1266,12Z").attr("fill", "#f02020");
orderBtn.append("path").attr("d", "M1268,20L1265,16L1271,16Z").attr("fill", "#10d010");
</script>
</body>
</html>
